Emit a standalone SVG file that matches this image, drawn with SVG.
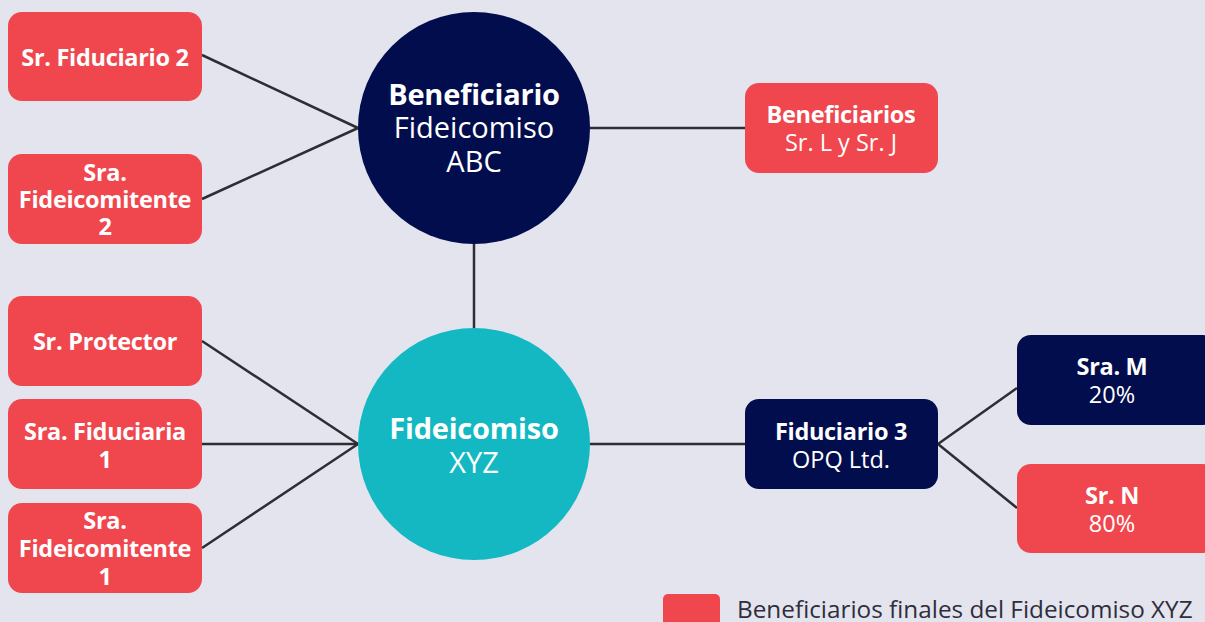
<svg xmlns="http://www.w3.org/2000/svg" width="1205" height="622" viewBox="0 0 1205 622">
<style>
.red{fill:#f0474f}
.navy{fill:#020d4d}
.teal{fill:#13b8c3}
.t{font-family:"Open Sans","Noto Sans",sans-serif;fill:#fff;text-anchor:middle}
.b{font-weight:700;font-size:23.5px;letter-spacing:-0.3px}
.r{font-weight:400;font-size:23.5px}
.cb{font-weight:700;font-size:29px;letter-spacing:-0.2px}
.cr{font-weight:400;font-size:29px}
.ln{stroke:#2d2d33;stroke-width:2.5;fill:none}
.lg{font-family:"Open Sans","Noto Sans",sans-serif;font-size:24.3px;fill:#2e2e3c}
</style>
<rect width="1205" height="622" fill="#e4e4ee"/>
<g id="connectors">
<line class="ln" x1="202" y1="55" x2="358" y2="128"/>
<line class="ln" x1="202" y1="199" x2="358" y2="128"/>
<line class="ln" x1="474" y1="244" x2="474" y2="328"/>
<line class="ln" x1="590" y1="128" x2="745" y2="128"/>
<line class="ln" x1="202" y1="341" x2="358" y2="444"/>
<line class="ln" x1="202" y1="444" x2="358" y2="444"/>
<line class="ln" x1="202" y1="548" x2="358" y2="444"/>
<line class="ln" x1="590" y1="444" x2="745" y2="444"/>
<line class="ln" x1="938" y1="444" x2="1017" y2="388"/>
<line class="ln" x1="938" y1="444" x2="1017" y2="508"/>
</g>
<g id="n-fiduciario2"><rect class="red" x="8" y="12" width="194" height="89" rx="14"/><text class="t b" x="105" y="66">Sr. Fiduciario 2</text></g>
<g id="n-fideicomitente2"><rect class="red" x="8" y="154" width="194" height="90" rx="14"/><text class="t b" x="105" y="181">Sra.</text><text class="t b" x="105" y="208">Fideicomitente</text><text class="t b" x="105" y="235">2</text></g>
<g id="n-protector"><rect class="red" x="8" y="296" width="194" height="90" rx="14"/><text class="t b" x="105" y="350">Sr. Protector</text></g>
<g id="n-fiduciaria1"><rect class="red" x="8" y="399" width="194" height="90" rx="14"/><text class="t b" x="105" y="440">Sra. Fiduciaria</text><text class="t b" x="105" y="468">1</text></g>
<g id="n-fideicomitente1"><rect class="red" x="8" y="503" width="194" height="90" rx="14"/><text class="t b" x="105" y="529">Sra.</text><text class="t b" x="105" y="557">Fideicomitente</text><text class="t b" x="105" y="585">1</text></g>
<g id="n-abc"><circle class="navy" cx="474" cy="128" r="116"/><text class="t cb" x="474" y="105">Beneficiario</text><text class="t cr" x="474" y="138">Fideicomiso</text><text class="t cr" x="474" y="172">ABC</text></g>
<g id="n-xyz"><circle class="teal" cx="474" cy="444" r="116"/><text class="t cb" x="474" y="439">Fideicomiso</text><text class="t cr" x="474" y="473">XYZ</text></g>
<g id="n-beneficiarios"><rect class="red" x="745" y="83" width="193" height="90" rx="14"/><text class="t b" x="841" y="123">Beneficiarios</text><text class="t r" x="841" y="151">Sr. L y Sr. J</text></g>
<g id="n-fiduciario3"><rect class="navy" x="745" y="399" width="193" height="90" rx="14"/><text class="t b" x="841" y="440">Fiduciario 3</text><text class="t r" x="841" y="468">OPQ Ltd.</text></g>
<g id="n-sram"><rect class="navy" x="1017" y="335" width="200" height="90" rx="14"/><text class="t b" x="1112" y="375">Sra. M</text><text class="t r" x="1112" y="403">20%</text></g>
<g id="n-srn"><rect class="red" x="1017" y="464" width="200" height="89" rx="14"/><text class="t b" x="1112" y="504">Sr. N</text><text class="t r" x="1112" y="532">80%</text></g>
<g id="legend"><rect class="red" x="663" y="594" width="57" height="40" rx="5"/><text class="lg" x="737" y="618">Beneficiarios finales del Fideicomiso XYZ</text></g>
</svg>
